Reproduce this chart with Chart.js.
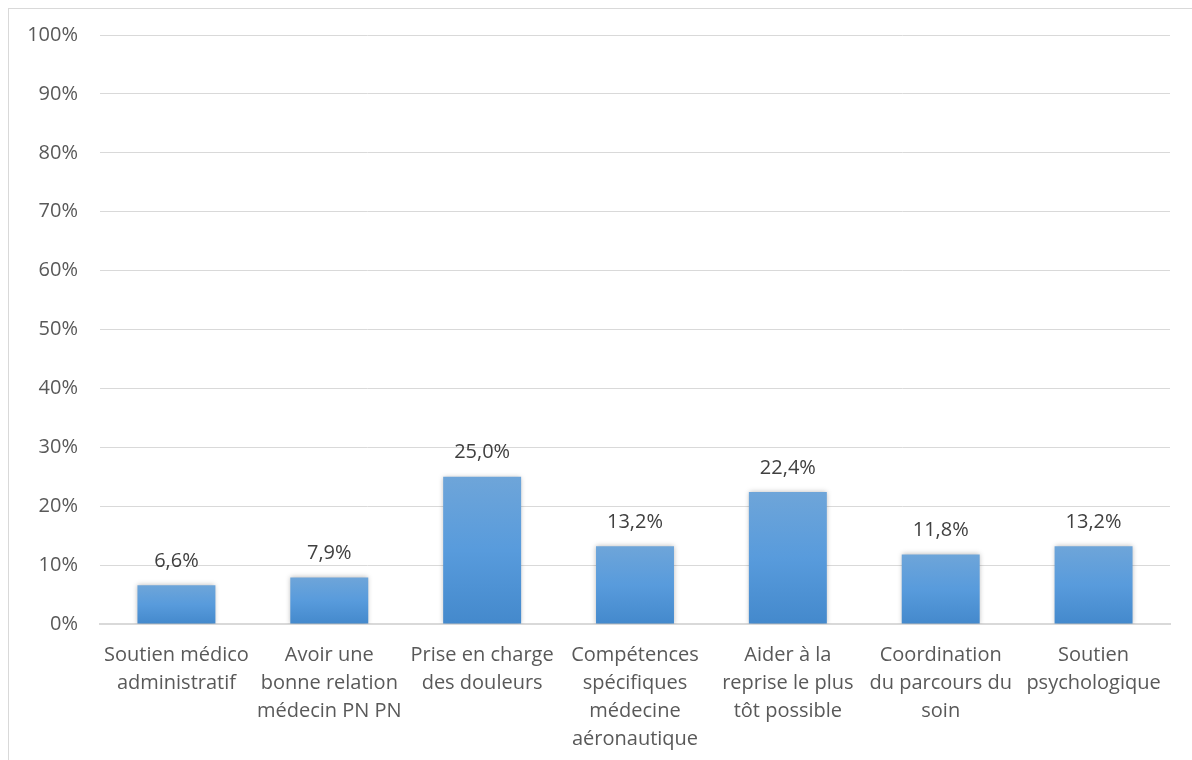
<!DOCTYPE html>
<html><head><meta charset="utf-8">
<script src="https://cdn.jsdelivr.net/npm/chart.js@4/dist/chart.umd.min.js"></script>
<style>html,body{margin:0;padding:0;background:#fff;}#wrap{width:1192px;height:760px;position:relative;}</style>
</head><body><div id="wrap"><canvas id="c" width="1192" height="760"></canvas></div>
<script>
const categories = [
  ["Soutien médico","administratif"],
  ["Avoir une","bonne relation","médecin PN PN"],
  ["Prise en charge","des douleurs"],
  ["Compétences","spécifiques","médecine","aéronautique"],
  ["Aider à la","reprise le plus","tôt possible"],
  ["Coordination","du parcours du","soin"],
  ["Soutien","psychologique"]
];
const values = [6.6, 7.9, 25.0, 13.2, 22.4, 11.8, 13.2];
const valueLabels = ["6,6%","7,9%","25,0%","13,2%","22,4%","11,8%","13,2%"];
const yTicks = [0,10,20,30,40,50,60,70,80,90,100];

const FONT = "'Open Sans'";

const borderPlugin = {
  id:'border',
  beforeDraw(chart){
    const ctx = chart.ctx;
    ctx.save();
    ctx.fillStyle='#fff';
    ctx.fillRect(0,0,chart.width,chart.height);
    ctx.strokeStyle='#d9d9d9';
    ctx.lineWidth=1;
    ctx.strokeRect(8.5,8.5,1400,1000);
    ctx.restore();
  }
};
const shadowPlugin = {
  id:'shadow',
  beforeDatasetDraw(chart){
    const ctx=chart.ctx; ctx.save();
    ctx.shadowColor='rgba(0,0,0,0.28)'; ctx.shadowBlur=5; ctx.shadowOffsetX=0; ctx.shadowOffsetY=0;
  },
  afterDatasetDraw(chart){ chart.ctx.restore(); }
};
const labelPlugin = {
  id:'vlabels',
  afterDatasetsDraw(chart){
    const ctx=chart.ctx; const meta=chart.getDatasetMeta(0);
    ctx.save();
    ctx.font = "20px "+FONT; ctx.fillStyle='#404040'; ctx.textAlign='center'; ctx.textBaseline='middle';
    meta.data.forEach((el,i)=>{ ctx.fillText(valueLabels[i], el.x, el.y-24); });
    ctx.restore();
  }
};

new Chart(document.getElementById('c'), {
  type:'bar',
  data:{ labels: categories, datasets:[{ data: values,
    backgroundColor(context){
      const chart=context.chart; const ys=chart.scales && chart.scales.y;
      if(!ys || context.raw===undefined) return '#5599db';
      const top=ys.getPixelForValue(context.raw), bot=ys.getPixelForValue(0);
      if(!isFinite(top)||!isFinite(bot)||top===bot) return '#5599db';
      const g=chart.ctx.createLinearGradient(0,top,0,bot);
      g.addColorStop(0,'#6ea5d9'); g.addColorStop(0.5,'#589bdc'); g.addColorStop(1,'#4489cc');
      return g;
    },
    borderWidth:0, barPercentage:0.51, categoryPercentage:1 }]},
  options:{
    responsive:false, animation:false, devicePixelRatio:1,
    layout:{ padding:{ top:35, right:22, left:0, bottom:0 } },
    plugins:{ legend:{display:false}, tooltip:{enabled:false} },
    scales:{
      x:{ grid:{display:false, drawTicks:false}, border:{display:true, color:'#d9d9d9', width:2},
          ticks:{ color:'#595959', font:{family:FONT, size:20, lineHeight:1.4}, padding:17, maxRotation:0, autoSkip:false },
          afterFit(s){ s.height = 136; } },
      y:{ min:0, max:100, grid:{ color:'#d9d9d9', lineWidth:1, drawTicks:false }, border:{display:false},
          afterBuildTicks(s){ s.ticks = yTicks.map(v=>({value:v})); },
          ticks:{ color:'#595959', font:{family:FONT, size:20}, padding:22, callback:v=>v+'%' },
          afterFit(s){ s.width = 100; } }
    }
  },
  plugins:[borderPlugin, shadowPlugin, labelPlugin]
});
</script></body></html>
